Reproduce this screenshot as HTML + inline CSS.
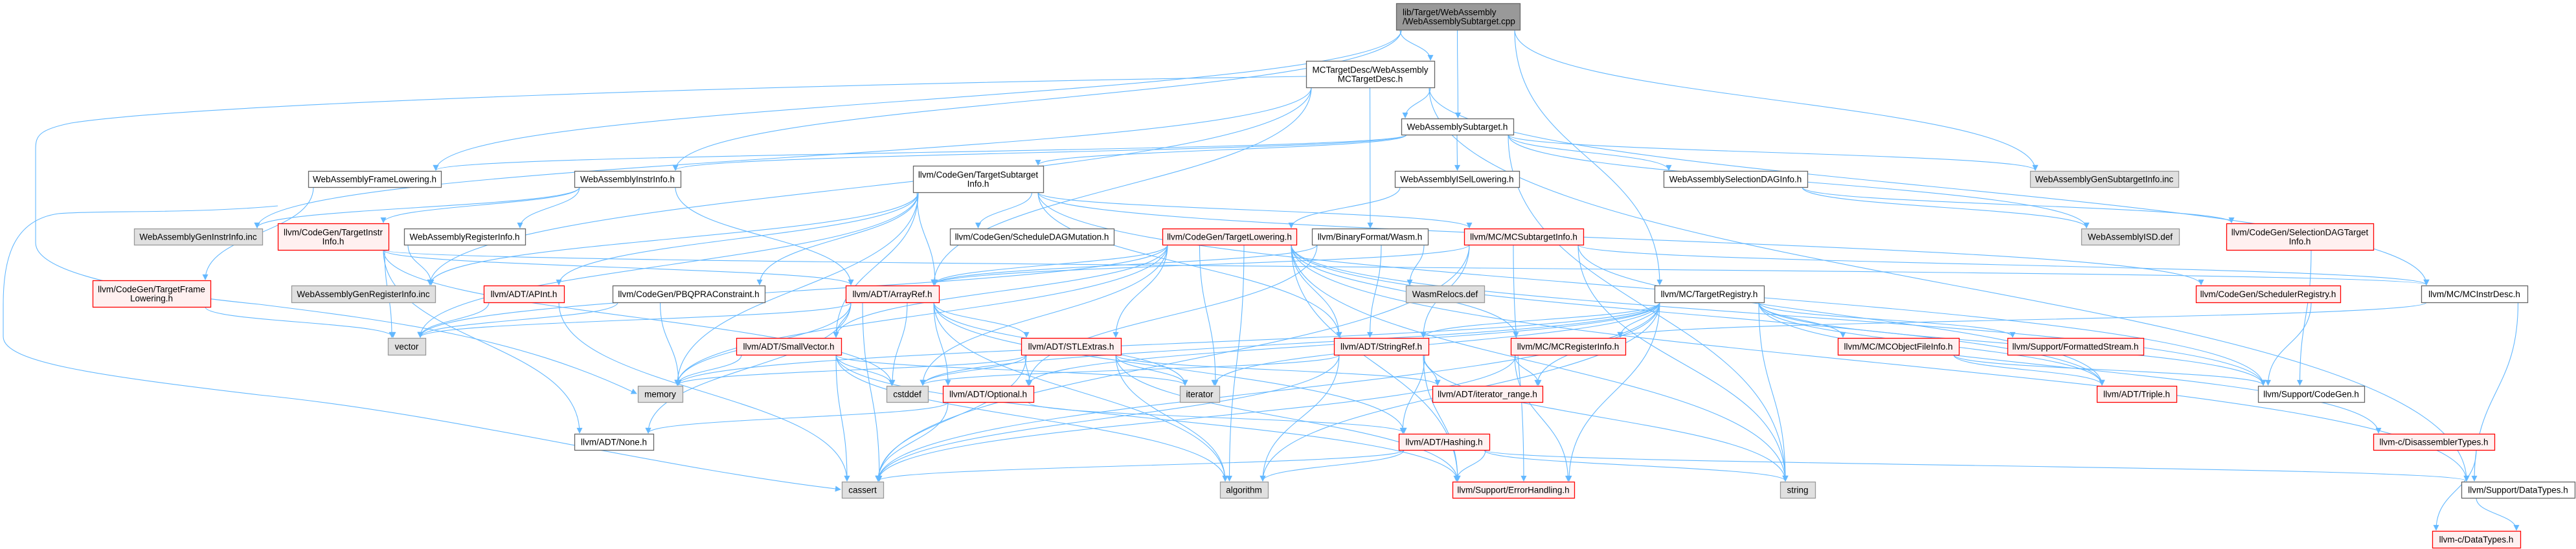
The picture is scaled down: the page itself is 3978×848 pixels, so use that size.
<!DOCTYPE html>
<html><head><meta charset="utf-8"><style>
html,body{margin:0;padding:0;background:#fff;}
svg{display:block;}
text{font-family:"Liberation Sans",Arial,sans-serif;font-size:13.5px;fill:#000;}
</style></head><body>
<svg id="g" width="3978" height="848" viewBox="0 0 3978 848" xmlns="http://www.w3.org/2000/svg">
<defs><marker id="a" viewBox="0 0 10 10" refX="9" refY="5" markerWidth="10" markerHeight="9" markerUnits="userSpaceOnUse" orient="auto"><path d="M0,0 L10,5 L0,10 z" fill="#63b8ff"/></marker></defs>
<g id="edges" fill="none" stroke="#63b8ff" stroke-width="1.1">
<path d="M2017,118 C1200,130 300,160 110,190 C60,200 55,210 55,230 L55,375 C55,420 200,450 400,470 C600,495 800,520 983,608" marker-end="url(#a)"/>
<path d="M429,318 C300,330 150,325 90,330 C20,340 5,400 5,470 L5,520 C5,560 150,580 400,610 C700,640 1000,720 1298,756" marker-end="url(#a)"/>
</g>
<g id="nodes"></g>
</svg>
<script>
var N={
root:[2156,5,2347,46,["lib/Target/WebAssembly","/WebAssemblySubtarget.cpp"],"root"],
mctd:[2017,94,2215,135,["MCTargetDesc/WebAssembly","MCTargetDesc.h"],"w"],
sub:[2164,183,2337,208,["WebAssemblySubtarget.h"],"w"],
fl:[476,264,681,289,["WebAssemblyFrameLowering.h"],"w"],
ii:[887,264,1051,289,["WebAssemblyInstrInfo.h"],"w"],
tsi:[1410,256,1611,297,["llvm/CodeGen/TargetSubtarget","Info.h"],"w"],
isel:[2154,264,2346,289,["WebAssemblyISelLowering.h"],"w"],
sdag:[2569,264,2791,289,["WebAssemblySelectionDAGInfo.h"],"w"],
gsi:[3135,264,3364,289,["WebAssemblyGenSubtargetInfo.inc"],"g"],
gii:[207,353,405,378,["WebAssemblyGenInstrInfo.inc"],"g"],
tii:[429,345,600,386,["llvm/CodeGen/TargetInstr","Info.h"],"r"],
ri:[624,353,811,378,["WebAssemblyRegisterInfo.h"],"w"],
sdm:[1467,353,1720,378,["llvm/CodeGen/ScheduleDAGMutation.h"],"w"],
tl:[1795,353,2002,378,["llvm/CodeGen/TargetLowering.h"],"r"],
wasm:[2026,353,2205,378,["llvm/BinaryFormat/Wasm.h"],"w"],
mcsi:[2261,353,2445,378,["llvm/MC/MCSubtargetInfo.h"],"r"],
isd:[3214,353,3365,378,["WebAssemblyISD.def"],"g"],
sdti:[3438,345,3665,386,["llvm/CodeGen/SelectionDAGTarget","Info.h"],"r"],
tfl:[143,433,325,474,["llvm/CodeGen/TargetFrame","Lowering.h"],"r"],
gri:[450,441,672,467,["WebAssemblyGenRegisterInfo.inc"],"g"],
apint:[747,441,871,467,["llvm/ADT/APInt.h"],"r"],
pbqp:[946,441,1181,467,["llvm/CodeGen/PBQPRAConstraint.h"],"w"],
ar:[1306,441,1450,467,["llvm/ADT/ArrayRef.h"],"r"],
wr:[2171,441,2292,467,["WasmRelocs.def"],"g"],
treg:[2555,441,2724,467,["llvm/MC/TargetRegistry.h"],"w"],
sr:[3391,441,3614,467,["llvm/CodeGen/SchedulerRegistry.h"],"r"],
mcid:[3739,441,3903,467,["llvm/MC/MCInstrDesc.h"],"w"],
vec:[599,522,657,548,["vector"],"g"],
sv:[1137,522,1299,548,["llvm/ADT/SmallVector.h"],"r"],
stl:[1577,522,1731,548,["llvm/ADT/STLExtras.h"],"r"],
str:[2060,522,2206,548,["llvm/ADT/StringRef.h"],"r"],
mcri:[2333,522,2510,548,["llvm/MC/MCRegisterInfo.h"],"r"],
mcofi:[2838,522,3025,548,["llvm/MC/MCObjectFileInfo.h"],"r"],
fs:[3100,522,3310,548,["llvm/Support/FormattedStream.h"],"r"],
mem:[985,596,1054,621,["memory"],"g"],
cstddef:[1369,596,1433,621,["cstddef"],"g"],
opt:[1456,596,1596,621,["llvm/ADT/Optional.h"],"r"],
iter:[1822,596,1883,621,["iterator"],"g"],
ir:[2212,596,2382,621,["llvm/ADT/iterator_range.h"],"r"],
triple:[3238,596,3361,621,["llvm/ADT/Triple.h"],"r"],
cg:[3487,596,3651,621,["llvm/Support/CodeGen.h"],"w"],
none:[887,670,1009,695,["llvm/ADT/None.h"],"w"],
hash:[2160,670,2300,695,["llvm/ADT/Hashing.h"],"r"],
dis:[3665,670,3852,695,["llvm-c/DisassemblerTypes.h"],"r"],
cassert:[1300,744,1364,769,["cassert"],"g"],
alg:[1884,744,1958,769,["algorithm"],"g"],
eh:[2243,744,2431,769,["llvm/Support/ErrorHandling.h"],"r"],
string:[2749,744,2803,769,["string"],"g"],
dt:[3801,744,3976,769,["llvm/Support/DataTypes.h"],"w"],
cdt:[3756,820,3892,846,["llvm-c/DataTypes.h"],"r"]
};
var E="root mctd,root sub,root ii,root gsi,root treg,root fl,"+
"mctd sub,mctd wasm,mctd mcid,mctd dt,mctd gii,mctd ar,mctd gri,"+
"sub fl,sub ii,sub isel,sub sdag,sub gsi,sub tsi,sub string,sub isd,"+
"ii gii,ii tii,ii ri,ii ar,fl tfl,ri gri,isel tl,sdag sdti,sdag isd,"+
"tsi sdm,tsi ar,tsi sv,tsi mcsi,tsi cg,tsi vec,tsi mem,tsi apint,tsi pbqp,tsi gri,tsi str,tsi sr,"+
"tii vec,tii cstddef,tii none,tii ar,tii mcid,"+
"tfl vec,apint vec,apint cassert,pbqp mem,pbqp vec,"+
"tl ar,tl sv,tl stl,tl str,tl alg,tl iter,tl cstddef,tl vec,tl mem,tl mcri,tl triple,tl cg,tl dt,tl eh,tl string,"+
"wasm str,wasm wr,wasm ar,wasm opt,mcsi str,mcsi ar,mcsi string,mcsi triple,mcsi mcid,mcsi cassert,mcsi eh,"+
"treg str,treg opt,treg ir,treg mcofi,treg fs,treg triple,treg cg,treg dis,treg eh,treg string,treg cassert,treg cstddef,treg mem,treg alg,treg iter,treg mcri,"+
"ar hash,ar none,ar opt,ar sv,ar stl,ar alg,ar cassert,ar cstddef,ar iter,ar mem,ar vec,"+
"sv mem,sv cassert,sv cstddef,sv alg,sv iter,sv eh,"+
"stl opt,stl ir,stl iter,stl cassert,stl cstddef,stl alg,stl eh,stl mem,"+
"str ir,str cassert,str alg,str string,str cstddef,str eh,str hash,"+
"mcri ir,mcri cassert,mcri eh,mcofi triple,mcofi cg,opt none,opt hash,opt cassert,"+
"hash eh,hash dt,hash string,hash alg,hash cassert,dis cdt,dt cdt,mcid dt,mcid mcri,sdti cg,sr cg";
var ns="http://www.w3.org/2000/svg",eg=document.getElementById("edges"),ng=document.getElementById("nodes");
function cl(v,a,b){return Math.max(a+6,Math.min(b-6,v));}
E.split(",").forEach(function(p){var k=p.split(" "),s=N[k[0]],t=N[k[1]];if(!s||!t)return;var d;
var scx=(s[0]+s[2])/2,tcx=(t[0]+t[2])/2;
if(t[1]>s[3]+8){var sx,tx;
if(Math.abs(tcx-scx)<(t[2]-t[0])/2+(s[2]-s[0])/2){sx=cl(tcx,s[0],s[2]);tx=cl(scx,t[0],t[2]);}else{sx=tcx>scx?s[2]-8:s[0]+8;tx=tcx>scx?t[0]+8:t[2]-8;}
var y1=s[3],y2=t[1]-1,dy=(y2-y1)*0.5;d="M"+sx+","+y1+" C"+sx+","+(y1+dy)+" "+tx+","+(y2-dy)+" "+tx+","+y2;}
else{var right=tcx>scx,sx2=right?s[2]:s[0],tx2=right?t[0]-1:t[2]+1,y1b=(s[1]+s[3])/2,y2b=(t[1]+t[3])/2,dx=(tx2-sx2)*0.5;
d="M"+sx2+","+y1b+" C"+(sx2+dx)+","+y1b+" "+(tx2-dx)+","+y2b+" "+tx2+","+y2b;}
var pe=document.createElementNS(ns,"path");pe.setAttribute("d",d);pe.setAttribute("marker-end","url(#a)");eg.appendChild(pe);});
for(var id in N){var n=N[id],r=document.createElementNS(ns,"rect");r.setAttribute("x",n[0]+0.5);r.setAttribute("y",n[1]+0.5);r.setAttribute("width",n[2]-n[0]);r.setAttribute("height",n[3]-n[1]);
var f="#fff",st="#666";if(n[5]=="g"){f="#e0e0e0";st="#999";}if(n[5]=="r"){f="#fff0f0";st="#ff0000";}if(n[5]=="root"){f="#999";st="#666";}
r.setAttribute("fill",f);r.setAttribute("stroke",st);r.setAttribute("stroke-width","1.3");ng.appendChild(r);
var L=n[4],cy=(n[1]+n[3])/2;for(var i=0;i<L.length;i++){var t=document.createElementNS(ns,"text");var yy=L.length==1?cy+5:cy-7+i*14+5;
if(n[5]=="root"){t.setAttribute("x",n[0]+10);}else{t.setAttribute("x",(n[0]+n[2])/2);t.setAttribute("text-anchor","middle");}
t.setAttribute("y",yy);t.textContent=L[i];ng.appendChild(t);}}
</script>
</body></html>
